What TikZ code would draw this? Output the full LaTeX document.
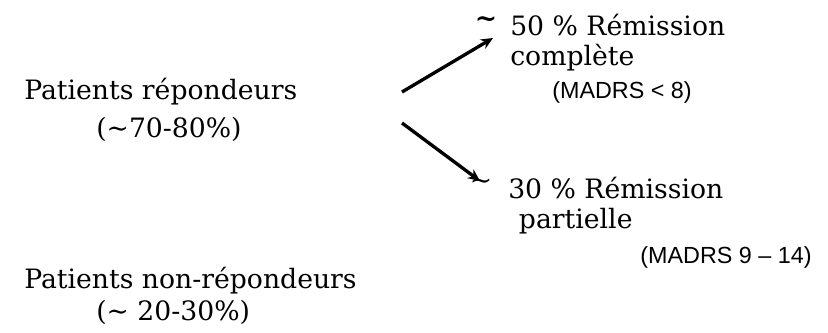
\documentclass[tikz,border=0pt]{standalone}
\usepackage{fontspec}
\setmainfont{DejaVu Serif}
\newfontfamily\arialfont{Liberation Sans}
\usetikzlibrary{arrows.meta}

\begin{document}
\begin{tikzpicture}[x=0.75pt,y=-0.75pt,
    group text/.style={font=\fontsize{20}{28.5}\selectfont, inner sep=0pt, align=left, anchor=north west},
    result text/.style={font=\fontsize{20}{22.5}\selectfont, inner sep=0pt, align=left, anchor=north west},
    score text/.style={font=\arialfont\fontsize{17.5}{21}\selectfont, inner sep=0pt},
    branch/.style={line width=2.5pt, -{Stealth[length=9pt,width=8pt]}}]
    \useasboundingbox (0,0) rectangle (828,332);

    % patient groups
    \node[group text] (resp) at (24,78) {Patients répondeurs\\\hspace*{54pt}(\textasciitilde70-80\%)};
    \node[group text, font=\fontsize{20}{24}\selectfont] (nonresp) at (24,267) {Patients non-répondeurs\\\hspace*{54pt}(\textasciitilde{} 20-30\%)};

    % outcomes
    \node[result text] (complete) at (510,14) {50 \% Rémission\\complète};
    \node[result text] (partial) at (508,177) {30 \% Rémission\\\hspace*{8pt}partielle};
    \node[font=\fontsize{20}{24}\selectfont\bfseries, inner sep=0pt] (tilde1) at (486,22) {\textasciitilde};
    \node[font=\fontsize{20}{24}\selectfont, inner sep=0pt] (tilde2) at (481,184) {\textasciitilde};
    \node[score text] (score1) at (622,92) {(MADRS < 8)};
    \node[score text] (score2) at (726,257) {(MADRS 9 – 14)};

    \coordinate (fork1) at (402,92);
    \coordinate (fork2) at (402,123);
    \coordinate (tip1) at (493,38);
    \coordinate (tip2) at (480,181);
    \draw[branch] (fork1) -- (tip1);
    \draw[branch] (fork2) -- (tip2);
\end{tikzpicture}
\end{document}
